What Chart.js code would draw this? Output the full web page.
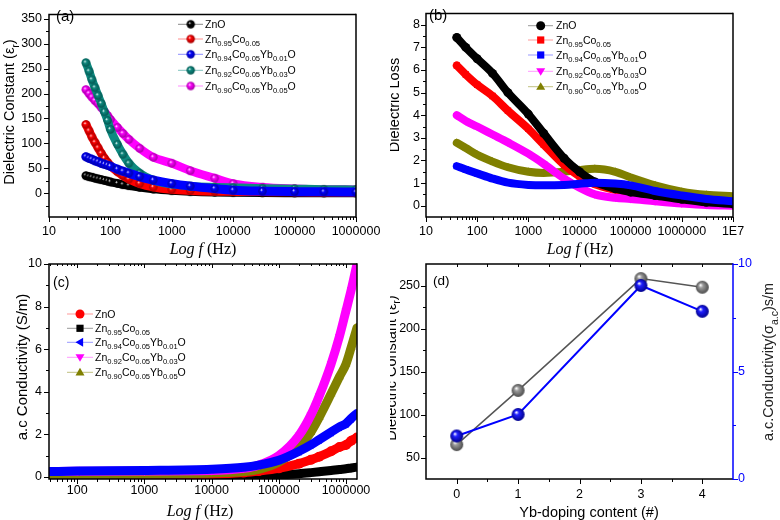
<!DOCTYPE html>
<html><head><meta charset="utf-8">
<script src="https://cdn.jsdelivr.net/npm/chart.js@4.4.1/dist/chart.umd.min.js"></script>
<style>
html,body{margin:0;padding:0;background:#fff;}
#wrap{position:relative;width:780px;height:520px;overflow:hidden;background:#fff;}
#wrap canvas{position:absolute;left:0;top:0;}
</style></head><body>
<div id="wrap">
<canvas id="ca" width="780" height="520"></canvas>
<canvas id="cb" width="780" height="520"></canvas>
<canvas id="cc" width="780" height="520"></canvas>
<canvas id="cd" width="780" height="520"></canvas>
</div>
<script>
// ================= DATA =================
// Panel (a): dielectric constant vs frequency (Hz)
const freqA = [40,45,50,56,63,71,80,90,100,130,160,200,300,500,1000,2000,5000,10000,30000,100000,300000,1000000];
const epsA_ZnO   = [35,33,32,30,28.5,27,25.5,24,22.5,19.5,17,15,11.5,8,5,3,1.5,1,0.5,0.3,0.2,0];
const epsA_Co    = [138,125,113,102,91,80,70,62,55,43,35,28,19,12,7,5,3.5,3,2.5,2,1.8,1.5];
const epsA_Yb01  = [73,70,68,65,63,60,58,56,54,48,44,40,33,26,19,14,9,6,4,3,2.5,2];
const epsA_Yb03  = [262,245,228,212,196,180,163,146,128,98,78,60,40,26,18,14,12,11,9.5,8.5,7.5,7];
const epsA_Yb05  = [208,200,193,186,180,172,164,156,148,132,120,108,90,72,60,45,30,19,12,9,7.5,7];

// Panel (b): dielectric loss vs frequency (Hz)
const freqB = [40,60,100,200,400,1000,2000,5000,10000,20000,50000,100000,300000,1000000,3000000,10000000];
const lossB_ZnO  = [7.44,7.0,6.5,5.85,5.0,4.05,3.2,2.1,1.5,1.05,0.75,0.6,0.45,0.28,0.15,0.08];
const lossB_Co   = [6.2,5.8,5.35,4.85,4.2,3.4,2.7,1.8,1.3,0.95,0.7,0.55,0.35,0.2,0.12,0.05];
const lossB_Yb01 = [1.75,1.6,1.43,1.2,1.02,0.92,0.9,0.92,0.97,1.02,0.98,0.9,0.65,0.45,0.3,0.2];
const lossB_Yb03 = [4.0,3.75,3.5,3.15,2.8,2.3,1.85,1.2,0.8,0.5,0.35,0.3,0.2,0.1,0.03,0.0];
const lossB_Yb05 = [2.78,2.55,2.25,1.95,1.7,1.5,1.45,1.5,1.58,1.63,1.5,1.25,0.9,0.62,0.48,0.42];

// Panel (c): a.c conductivity (S/m) vs frequency (Hz)
const freqC = [38,100,1000,10000,30000,50000,100000,200000,300000,400000,600000,800000,1000000,1200000,1460000];
const sigC_ZnO   = [0.05,0.05,0.07,0.12,0.2,0.27,0.4,0.62,0.8,0.95,1.2,1.4,1.5,1.7,1.85];
const sigC_Co    = [0.0,0.0,0.0,0.02,0.04,0.06,0.09,0.15,0.2,0.24,0.3,0.35,0.38,0.42,0.46];
const sigC_Yb01  = [0.25,0.27,0.3,0.36,0.45,0.55,0.78,1.2,1.5,1.75,2.1,2.35,2.5,2.75,2.98];
const sigC_Yb03  = [0.25,0.26,0.28,0.3,0.4,0.55,1.0,1.95,2.9,3.8,5.3,6.6,7.8,8.8,10.0];
const sigC_Yb05  = [0.1,0.1,0.12,0.18,0.25,0.35,0.7,1.4,2.1,2.8,3.9,4.7,5.3,6.1,7.0];

// Panel (d): vs Yb-doping content
const ybContent = [0,1,3,4];
const epsD = [65,128,258,248];
const sigD = [2.0,3.0,9.0,7.8];

// Tick labels
const ticksA_x = [10,100,1000,10000,100000,1000000];
const ticksA_y = [0,50,100,150,200,250,300,350];
const ticksB_x = [10,100,1000,10000,100000,1000000,10000000];
const ticksB_y = [0,1,2,3,4,5,6,7,8];
const ticksC_x = [100,1000,10000,100000,1000000];
const ticksC_y = [0,2,4,6,8,10];
const ticksD_x = [0,1,2,3,4];
const ticksD_y = [50,100,150,200,250];
const ticksD_y2 = [0,5,10];

// Legend labels ([text, 1] = subscript)
const legA = [
  [['ZnO']],
  [['Zn'],['0.95',1],['Co'],['0.05',1]],
  [['Zn'],['0.94',1],['Co'],['0.05',1],['Yb'],['0.01',1],['O']],
  [['Zn'],['0.92',1],['Co'],['0.05',1],['Yb'],['0.03',1],['O']],
  [['Zn'],['0.90',1],['Co'],['0.05',1],['Yb'],['0.05',1],['O']]
];

// ================= HELPERS =================
const W = 780, H = 520;
const SANS = '"Liberation Sans", Arial, Helvetica, sans-serif';
const SERIF = '"Liberation Serif", "Times New Roman", serif';
const TICKFONT = {family: SANS, size: 12.5};

function richText(ctx, parts, x, y, o) {
  const size = o.size;
  const fontOf = p => (p[1] === 2 ? 'italic ' : '') + (p[1] === 1 ? size * 0.72 : size) + 'px ' + (p[2] || o.family || SANS);
  ctx.save();
  let total = 0; const ws = [];
  for (const p of parts) { ctx.font = fontOf(p); const w = ctx.measureText(p[0]).width; ws.push(w); total += w; }
  ctx.translate(x, y); if (o.rot) ctx.rotate(o.rot);
  let cx = o.align === 'center' ? -total / 2 : 0;
  ctx.fillStyle = o.color || '#000'; ctx.textBaseline = 'alphabetic'; ctx.textAlign = 'left';
  const base = size * 0.36;
  parts.forEach((p, i) => { ctx.font = fontOf(p); ctx.fillText(p[0], cx, p[1] === 1 ? base + size * 0.3 : base); cx += ws[i]; });
  ctx.restore();
}

function sphereImg(base, dark, r) {
  const c = document.createElement('canvas');
  const d = Math.ceil(2 * r + 2); c.width = d; c.height = d;
  const g = c.getContext('2d'); const cx = d / 2, cy = d / 2;
  const gr = g.createRadialGradient(cx - r * 0.3, cy - r * 0.35, r * 0.05, cx, cy, r);
  gr.addColorStop(0, '#ffffff'); gr.addColorStop(0.3, base); gr.addColorStop(1, dark);
  g.fillStyle = gr; g.beginPath(); g.arc(cx, cy, r, 0, Math.PI * 2); g.fill();
  return c;
}

function drawMarker(ctx, type, x, y, r, color) {
  if (typeof type === 'object') { ctx.drawImage(type, x - type.width / 2, y - type.height / 2); return; }
  ctx.save(); ctx.fillStyle = color; ctx.beginPath();
  if (type === 'circle') ctx.arc(x, y, r, 0, Math.PI * 2);
  else if (type === 'rect') ctx.rect(x - r * 0.8, y - r * 0.8, r * 1.6, r * 1.6);
  else if (type === 'up') { ctx.moveTo(x, y - r); ctx.lineTo(x + r, y + r * 0.7); ctx.lineTo(x - r, y + r * 0.7); }
  else if (type === 'down') { ctx.moveTo(x, y + r); ctx.lineTo(x + r, y - r * 0.7); ctx.lineTo(x - r, y - r * 0.7); }
  else if (type === 'left') { ctx.moveTo(x - r, y); ctx.lineTo(x + r * 0.7, y - r); ctx.lineTo(x + r * 0.7, y + r); }
  ctx.closePath(); ctx.fill(); ctx.restore();
}

function drawLegend(ctx, L) {
  L.rows.forEach((y, i) => {
    const e = L.entries[i];
    ctx.save(); ctx.strokeStyle = e.line; ctx.lineWidth = 1;
    ctx.beginPath(); ctx.moveTo(L.x1, y); ctx.lineTo(L.x2, y); ctx.stroke(); ctx.restore();
    drawMarker(ctx, e.marker, L.xm, y, 4.5, e.color);
    richText(ctx, legA[i], L.xt, y, {size: 10.5, align: 'left'});
  });
}

function logMinor(min, max) {
  const out = [];
  for (let e = Math.floor(Math.log10(min)); e <= Math.ceil(Math.log10(max)); e++)
    for (let k = 2; k <= 9; k++) { const v = k * Math.pow(10, e); if (v > min && v < max) out.push(v); }
  return out;
}
function stepMinor(min, max, step, off) {
  const out = [];
  for (let v = Math.ceil((min - off) / step) * step + off; v < max; v += step) if (v > min) out.push(v);
  return out;
}

function drawTicks(ctx, chart, scaleId, side, values, len, dir, color) {
  const a = chart.chartArea, s = chart.scales[scaleId];
  ctx.save(); ctx.strokeStyle = color || '#000'; ctx.lineWidth = 1; ctx.beginPath();
  values.forEach(v => {
    const p = Math.round(s.getPixelForValue(v)) + 0.5;
    const sg = dir === 'out' ? 1 : -1;
    if (side === 'bottom') { ctx.moveTo(p, a.bottom); ctx.lineTo(p, a.bottom + sg * len); }
    else if (side === 'top') { ctx.moveTo(p, a.top); ctx.lineTo(p, a.top - sg * len); }
    else if (side === 'left') { ctx.moveTo(a.left, p); ctx.lineTo(a.left - sg * len, p); }
    else if (side === 'right') { ctx.moveTo(a.right, p); ctx.lineTo(a.right + sg * len, p); }
  });
  ctx.stroke(); ctx.restore();
}

function drawFrame(ctx, chart, rightColor) {
  const a = chart.chartArea;
  ctx.save(); ctx.lineWidth = 1.5; ctx.strokeStyle = '#000';
  ctx.beginPath();
  ctx.moveTo(a.right, a.top); ctx.lineTo(a.left, a.top); ctx.lineTo(a.left, a.bottom); ctx.lineTo(a.right, a.bottom);
  ctx.stroke();
  ctx.strokeStyle = rightColor || '#000'; ctx.beginPath(); ctx.moveTo(a.right, a.top - 0.75); ctx.lineTo(a.right, a.bottom + 0.75); ctx.stroke();
  ctx.restore();
}

function band(xs, ys, color, width, style, radius, rot, order) {
  return {
    data: xs.map((x, i) => ({x: x, y: ys[i]})),
    borderColor: color, backgroundColor: color, borderWidth: width,
    pointStyle: style, pointRadius: radius, pointRotation: rot || 0,
    pointBackgroundColor: color, pointBorderColor: color, pointBorderWidth: 0,
    cubicInterpolationMode: 'monotone', fill: false, order: order,
    borderCapStyle: 'round', borderJoinStyle: 'round'
  };
}

function buildChart(id, spec) {
  const a = spec.area;
  const yW = 40, xH = 30, y2W = spec.y2 ? 30 : 0;
  const axis = (ax, pos, isX) => ({
    type: ax.type, min: ax.min, max: ax.max, position: pos,
    afterBuildTicks: s => { s.ticks = ax.major.map(v => ({value: v})); },
    afterFit: s => { if (isX) s.height = xH; else s.width = pos === 'right' ? y2W : yW; },
    grid: {display: false, drawTicks: false}, border: {display: false},
    ticks: {autoSkip: false, maxRotation: 0, minRotation: 0, padding: ax.pad, color: ax.color || '#000', font: TICKFONT,
            callback: ax.fmt || (v => String(v))}
  });
  const scales = {x: axis(spec.x, 'bottom', true), y: axis(spec.y, 'left', false)};
  if (spec.y2) scales.y2 = axis(spec.y2, 'right', false);
  return new Chart(document.getElementById(id).getContext('2d'), {
    type: 'line',
    data: {datasets: spec.datasets},
    options: {
      responsive: false, animation: false, events: [], devicePixelRatio: 1,
      layout: {autoPadding: false, padding: {left: a.l - yW, top: a.t, right: W - a.r - y2W, bottom: H - a.b - xH}},
      scales: scales,
      plugins: {legend: {display: false}, tooltip: {enabled: false}}
    },
    plugins: [{id: 'deco_' + id, afterDraw: c => spec.deco(c, c.ctx)}]
  });
}

// ================= PANEL (a) =================
const colA = ['#000000', '#ff0000', '#0000ff', '#0e8a80', '#ff00ff'];
const darkA = ['#000000', '#a00000', '#0000a0', '#04554f', '#a000a0'];
const sphA = colA.map((c, i) => sphereImg(c, darkA[i], 4.2));
const orderA = [4, 2, 0, 1, 3];
const epsA = [epsA_ZnO, epsA_Co, epsA_Yb01, epsA_Yb03, epsA_Yb05];
buildChart('ca', {
  area: {l: 49, t: 2, r: 356, b: 217},
  x: {type: 'logarithmic', min: 10, max: 1000000, major: ticksA_x, pad: 7},
  y: {type: 'linear', min: -48, max: 359, major: ticksA_y, pad: 7},
  datasets: epsA.map((ys, i) => band(freqA, ys, colA[i], i === 2 ? 9 : 8.5, sphA[i], 4, 0, orderA[i])),
  deco: (c, ctx) => {
    drawFrame(ctx, c);
    drawTicks(ctx, c, 'x', 'bottom', ticksA_x, 5, 'out');
    drawTicks(ctx, c, 'x', 'bottom', logMinor(10, 1000000), 3, 'out');
    drawTicks(ctx, c, 'y', 'left', ticksA_y, 5, 'out');
    drawTicks(ctx, c, 'y', 'left', stepMinor(-48, 359, 50, 25), 3, 'out');
    richText(ctx, [['(a)']], 56, 16, {size: 15});
    richText(ctx, [['Dielectric Constant ('], ['\u03b5'], ['r', 1], [')']], 9, 112, {size: 14.5, rot: -Math.PI / 2, align: 'center'});
    richText(ctx, [['Log f', 2, SERIF], [' (Hz)', 0, SERIF]], 203, 248, {size: 16, align: 'center', family: SERIF});
    drawLegend(ctx, {x1: 178, x2: 203, xm: 190.7, xt: 205, rows: [24.3, 39, 54.3, 70.3, 86],
      entries: [
        {marker: sphA[0], color: colA[0], line: '#888888'},
        {marker: sphA[1], color: colA[1], line: '#ff8c8c'},
        {marker: sphA[2], color: colA[2], line: '#8c8cff'},
        {marker: sphA[3], color: colA[3], line: '#80c4be'},
        {marker: sphA[4], color: colA[4], line: '#ff8cff'}]});
  }
});

// ================= PANEL (b) =================
const colB = ['#000000', '#ff0000', '#0000ff', '#ff00ff', '#808000'];
const lossB = [lossB_ZnO, lossB_Co, lossB_Yb01, lossB_Yb03, lossB_Yb05];
const styleB = ['circle', 'rect', 'rect', 'triangle', 'triangle'];
const rotB = [0, 0, 0, 180, 0];
const orderB = [1, 3, 0, 2, 4];
buildChart('cb', {
  area: {l: 426, t: 3, r: 733, b: 217},
  x: {type: 'logarithmic', min: 10, max: 10000000, major: ticksB_x, pad: 7, fmt: v => (v === 10000000 ? '1E7' : String(v))},
  y: {type: 'linear', min: -0.5, max: 8.5, major: ticksB_y, pad: 6},
  datasets: lossB.map((ys, i) => band(freqB, ys, colB[i], 8, styleB[i], 4.5, rotB[i], orderB[i])),
  deco: (c, ctx) => {
    drawFrame(ctx, c);
    drawTicks(ctx, c, 'x', 'bottom', ticksB_x, 5, 'out');
    drawTicks(ctx, c, 'x', 'bottom', logMinor(10, 10000000), 3, 'out');
    drawTicks(ctx, c, 'y', 'left', ticksB_y, 5, 'out');
    drawTicks(ctx, c, 'y', 'left', stepMinor(-0.5, 8.5, 1, 0.5), 3, 'out');
    richText(ctx, [['(b)']], 429, 15, {size: 15});
    ctx.save(); ctx.beginPath(); ctx.rect(390, 0, 390, 255); ctx.clip();
    richText(ctx, [['Dielectric Loss']], 394, 105, {size: 14.5, rot: -Math.PI / 2, align: 'center'});
    ctx.restore();
    richText(ctx, [['Log f', 2, SERIF], [' (Hz)', 0, SERIF]], 580, 248, {size: 16, align: 'center', family: SERIF});
    drawLegend(ctx, {x1: 528, x2: 553, xm: 540.7, xt: 556, rows: [25.7, 40, 55, 71.3, 86.7],
      entries: [
        {marker: 'circle', color: colB[0], line: '#999999'},
        {marker: 'rect', color: colB[1], line: '#ff9999'},
        {marker: 'rect', color: colB[2], line: '#9999ff'},
        {marker: 'down', color: colB[3], line: '#ff99ff'},
        {marker: 'up', color: colB[4], line: '#c0c080'}]});
  }
});

// ================= PANEL (c) =================
const colC = ['#ff0000', '#000000', '#0000ff', '#ff00ff', '#808000'];
const sigC = [sigC_ZnO, sigC_Co, sigC_Yb01, sigC_Yb03, sigC_Yb05];
const styleC = ['circle', 'rect', 'triangle', 'triangle', 'triangle'];
const rotC = [0, 0, -90, 180, 0];
const orderC = [3, 4, 0, 1, 2];
buildChart('cc', {
  area: {l: 49, t: 264, r: 357, b: 479},
  x: {type: 'logarithmic', min: 38, max: 1460000, major: ticksC_x, pad: 4},
  y: {type: 'linear', min: -0.1, max: 10, major: ticksC_y, pad: 7},
  datasets: sigC.map((ys, i) => band(freqC, ys, colC[i], 9, styleC[i], 5, rotC[i], orderC[i])),
  deco: (c, ctx) => {
    drawFrame(ctx, c);
    drawTicks(ctx, c, 'x', 'bottom', ticksC_x, 5, 'out');
    drawTicks(ctx, c, 'x', 'bottom', logMinor(38, 1460000), 3, 'out');
    drawTicks(ctx, c, 'x', 'top', ticksC_x, 4, 'in');
    drawTicks(ctx, c, 'x', 'top', logMinor(38, 1460000), 2, 'in');
    drawTicks(ctx, c, 'y', 'left', ticksC_y, 5, 'out');
    drawTicks(ctx, c, 'y', 'left', stepMinor(-0.1, 10, 2, 1), 3, 'out');
    richText(ctx, [['(c)']], 53, 282, {size: 14});
    richText(ctx, [['a.c Conductivity (S/m)']], 22, 367, {size: 15, rot: -Math.PI / 2, align: 'center'});
    richText(ctx, [['Log f', 2, SERIF], [' (Hz)', 0, SERIF]], 200, 510, {size: 16, align: 'center', family: SERIF});
    drawLegend(ctx, {x1: 67, x2: 93, xm: 80, xt: 95, rows: [314, 328.3, 342.3, 357.3, 372.3],
      entries: [
        {marker: 'circle', color: colC[0], line: '#ff9999'},
        {marker: 'rect', color: colC[1], line: '#999999'},
        {marker: 'left', color: colC[2], line: '#9999ff'},
        {marker: 'down', color: colC[3], line: '#ff99ff'},
        {marker: 'up', color: colC[4], line: '#c0c080'}]});
  }
});

// ================= PANEL (d) =================
const sphGrey = sphereImg('#9c9c9c', '#4a4a4a', 6.5);
const sphBlue = sphereImg('#2020ff', '#00008c', 6.5);
buildChart('cd', {
  area: {l: 426, t: 264, r: 733, b: 479},
  x: {type: 'linear', min: -0.5, max: 4.5, major: ticksD_x, pad: 8},
  y: {type: 'linear', min: 25, max: 275, major: ticksD_y, pad: 6},
  y2: {type: 'linear', min: 0, max: 10, major: ticksD_y2, pad: 5, color: '#0000ff'},
  datasets: [
    {data: ybContent.map((x, i) => ({x: x, y: epsD[i]})), yAxisID: 'y', borderColor: '#555555', borderWidth: 1.5,
     pointStyle: sphGrey, pointRadius: 6, tension: 0, order: 1},
    {data: ybContent.map((x, i) => ({x: x, y: sigD[i]})), yAxisID: 'y2', borderColor: '#0000ff', borderWidth: 2,
     pointStyle: sphBlue, pointRadius: 6, tension: 0, order: 0}
  ],
  deco: (c, ctx) => {
    drawFrame(ctx, c, '#0000ff');
    drawTicks(ctx, c, 'x', 'bottom', ticksD_x, 5, 'out');
    drawTicks(ctx, c, 'x', 'bottom', [0.5, 1.5, 2.5, 3.5], 3, 'out');
    drawTicks(ctx, c, 'x', 'top', [0, 0.5, 1, 1.5, 2, 2.5, 3, 3.5, 4], 3, 'in');
    drawTicks(ctx, c, 'y', 'left', ticksD_y, 5, 'out');
    drawTicks(ctx, c, 'y', 'left', [75, 125, 175, 225], 3, 'out');
    drawTicks(ctx, c, 'y2', 'right', ticksD_y2, 5, 'out', '#0000ff');
    drawTicks(ctx, c, 'y2', 'right', [2.5, 7.5], 3, 'out', '#0000ff');
    richText(ctx, [['(d)']], 433, 280, {size: 13.5});
    ctx.save(); ctx.beginPath(); ctx.rect(390, 255, 390, 265); ctx.clip();
    richText(ctx, [['Dielectric Constant ('], ['\u03b5'], ['r', 1], [')']], 390.5, 368, {size: 14.5, rot: -Math.PI / 2, align: 'center'});
    ctx.restore();
    richText(ctx, [['a.c.Conductivity(\u03c3'], ['a.c', 1], [')s/m']], 768, 362, {size: 14.5, rot: -Math.PI / 2, align: 'center', color: '#222'});
    richText(ctx, [['Yb-doping content (#)']], 589, 512, {size: 14.5, align: 'center'});
  }
});
</script>
</body></html>
